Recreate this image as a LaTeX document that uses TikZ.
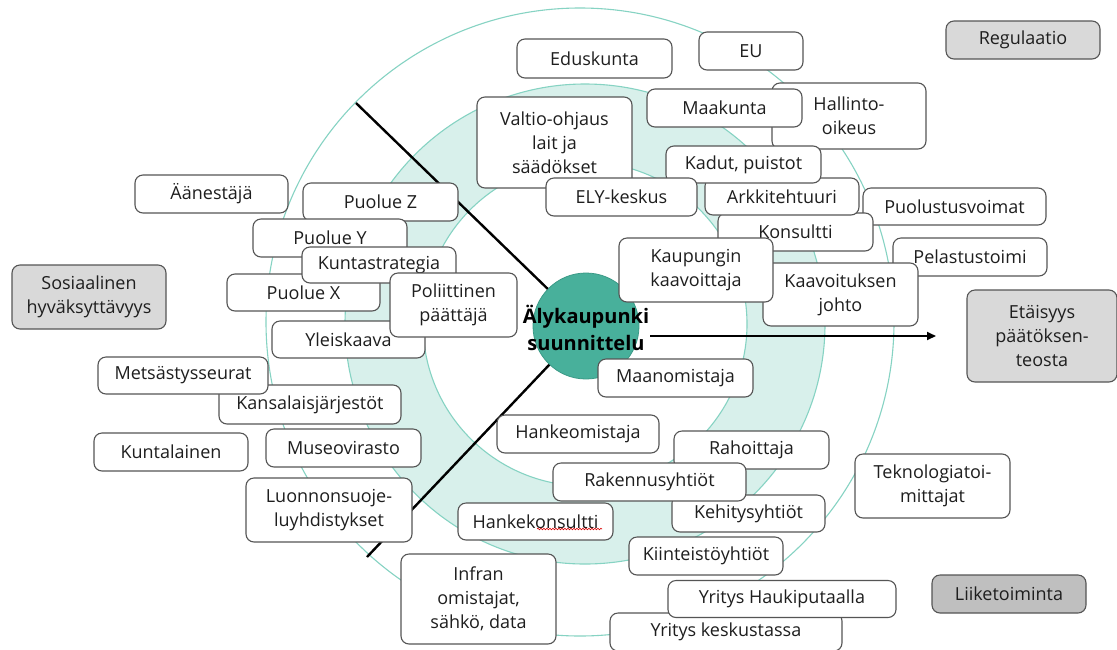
\documentclass[tikz,border=0pt]{standalone}
\usepackage{fontspec}
\setmainfont{Open Sans}
\usetikzlibrary{arrows.meta,decorations.pathmorphing}
\definecolor{ringline}{HTML}{86D3C3}
\definecolor{bandfill}{HTML}{D8F0EB}
\definecolor{hub}{HTML}{48B09B}
\definecolor{hubline}{HTML}{3B9A87}
\definecolor{boxline}{HTML}{555555}
\definecolor{graybox}{HTML}{D9D9D9}
\definecolor{darkgraybox}{HTML}{BFBFBF}
\definecolor{txt}{HTML}{1E1E1E}
\newcommand\bx[7][box]{\node[#1, minimum width=#5pt, minimum height=#6pt] (#2) at (#3,#4) {#7};}
\begin{document}
\begin{tikzpicture}[x=1pt,y=-1pt,
  box/.style={draw=boxline, fill=white, line width=1.1pt, rounded corners=8pt, inner sep=0pt, align=center, text=txt, font=\fontsize{18}{24}\selectfont},
  gbox/.style={box, fill=graybox},
  dgbox/.style={box, fill=darkgraybox},
  ring/.style={draw=ringline, line width=1.1pt},
  spoke/.style={draw=black, line width=2.4pt},
  arr/.style={draw=black, line width=1.8pt, -{Triangle[length=9pt,width=8pt]}},
  squiggle/.style={draw=red!85!black, line width=0.6pt, decorate, decoration={snake, amplitude=0.8pt, segment length=3pt}}
]
\clip (0,0) rectangle (1117,649);
\fill[white] (0,0) rectangle (1117,649);
% rings
\fill[bandfill, even odd rule] (585,324) circle[radius=240pt] (585,324) circle[radius=162pt];
\draw[ring] (585,324) circle[radius=240pt];
\draw[ring] (585,324) circle[radius=162pt];
\draw[ring] (580,322) circle[radius=314pt];
% hub
\node[circle, fill=hub, draw=hubline, line width=0.8pt, minimum size=106pt, inner sep=0pt] (hub) at (586,326) {};
\coordinate (sA) at (356,103);
\coordinate (sB) at (367,557);
\coordinate (arrE) at (936,336);
\draw[spoke] (sA) -- (hub);
\draw[spoke] (sB) -- (hub);
% boxes
\bx{edus}{594.5}{58.5}{155}{39}{Eduskunta}
\bx{eu}{751}{51}{104}{38}{EU}
\bx[gbox]{reg}{1023}{40}{154}{38}{Regulaatio}
\bx{hal}{849}{116}{154}{66}{Hallinto-\\oikeus}
\bx{maak}{724.5}{108}{155}{38}{Maakunta}
\bx{valt}{554.5}{142.5}{155}{91}{Valtio-ohjaus\\lait ja\\säädökset}
\bx{puol}{954.5}{206.5}{183}{37}{Puolustusvoimat}
\bx{kons}{795.5}{232}{155}{38}{Konsultti}
\bx{ark}{782}{196.5}{154}{37}{Arkkitehtuuri}
\bx{kadut}{743.5}{164.5}{155}{37}{Kadut, puistot}
\bx{ely}{621.5}{197}{151}{38}{ELY-keskus}
\bx{pel}{970}{257}{154}{38}{Pelastustoimi}
\bx{kjoh}{840.5}{294.5}{155}{63}{Kaavoituksen\\johto}
\bx{kkaav}{696}{270}{154}{64}{Kaupungin\\kaavoittaja}
\bx{maan}{675.5}{378}{155}{38}{Maanomistaja}
\bx{aan}{211.5}{194}{153}{38}{Äänestäjä}
\bx{pz}{380.5}{202}{155}{38}{Puolue Z}
\bx{py}{330}{238}{154}{38}{Puolue Y}
\bx{px}{303.5}{292.5}{153}{37}{Puolue X}
\bx{kstr}{379}{265}{154}{36}{Kuntastrategia}
\bx{yleis}{348.5}{339.5}{153}{37}{Yleiskaava}
\bx{pol}{453.5}{305}{127}{64}{Poliittinen\\päättäjä}
\bx{kans}{310}{404.5}{182}{39}{Kansalaisjärjestöt}
\bx{mets}{183}{375.5}{170}{37}{Metsästysseurat}
\bx{kunt}{171}{452}{154}{38}{Kuntalainen}
\bx{muse}{343.5}{448}{155}{38}{Museovirasto}
\bx{luon}{329}{510}{166}{64}{Luonnonsuoje-\\luyhdistykset}
\bx{hom}{578}{434}{162}{38}{Hankeomistaja}
\bx{keh}{748.5}{513.5}{153}{37}{Kehitysyhtiöt}
\bx{rah}{751.5}{450}{155}{38}{Rahoittaja}
\bx{rak}{649.5}{482}{193}{38}{Rakennusyhtiöt}
\bx{hkons}{535.5}{521.5}{155}{37}{Hankekonsultti}
\bx{kiin}{706}{556}{154}{38}{Kiinteistöyhtiöt}
\bx{infra}{478.5}{599}{155}{90}{Infran\\omistajat,\\sähkö, data}
\bx{ykesk}{726}{632}{232}{38}{Yritys keskustassa}
\bx{yhauk}{782}{599}{228}{37}{Yritys Haukiputaalla}
\bx{tekn}{932.5}{486}{155}{64}{Teknologiatoi-\\mittajat}
\bx[dgbox]{liik}{1009}{594}{154}{38}{Liiketoiminta}
\bx[gbox]{sos}{89}{297}{154}{64}{Sosiaalinen\\hyväksyttävyys}
\bx[gbox]{eta}{1042}{336}{150}{92}{Etäisyys\\päätöksen-\\teosta}
\draw[squiggle] (537,529) -- (602,529);
% hub text and arrow
\node[font=\bfseries\fontsize{20}{27}\selectfont, align=center, text=black, inner sep=1pt] (hubtext) at (586,328) {Älykaupunki\\suunnittelu};
\draw[arr] (hubtext.east |- arrE) -- (arrE);
\end{tikzpicture}
\end{document}
